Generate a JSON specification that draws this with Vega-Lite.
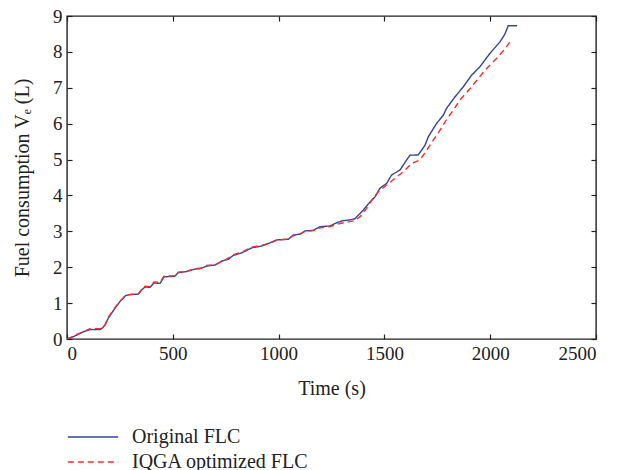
{
  "$schema": "https://vega.github.io/schema/vega-lite/v6.json",
  "width": 529,
  "height": 323,
  "autosize": "none",
  "padding": {"left": 67, "top": 16, "right": 33, "bottom": 131},
  "background": "white",
  "config": {
    "view": {"stroke": "#222", "strokeWidth": 1.4},
    "font": "Liberation Serif",
    "axis": {
      "domain": false,
      "grid": false,
      "tickColor": "#222",
      "tickWidth": 1.2,
      "tickSize": -5,
      "labelFont": "Liberation Serif",
      "labelFontSize": 19,
      "labelColor": "#222",
      "titleFont": "Liberation Serif",
      "titleFontSize": 20,
      "titleFontWeight": "normal",
      "titleColor": "#222"
    },
    "legend": {
      "labelFont": "Liberation Serif",
      "labelFontSize": 20,
      "labelColor": "#222",
      "labelLimit": 400
    }
  },
  "datasets": {
    "fuel": [
      {"t": 0, "v": 0, "s": "Original FLC"},
      {"t": 20, "v": 0.04, "s": "Original FLC"},
      {"t": 46, "v": 0.11, "s": "Original FLC"},
      {"t": 77, "v": 0.2, "s": "Original FLC"},
      {"t": 109, "v": 0.26, "s": "Original FLC"},
      {"t": 156, "v": 0.26, "s": "Original FLC"},
      {"t": 170, "v": 0.32, "s": "Original FLC"},
      {"t": 180, "v": 0.39, "s": "Original FLC"},
      {"t": 195, "v": 0.58, "s": "Original FLC"},
      {"t": 211, "v": 0.72, "s": "Original FLC"},
      {"t": 227, "v": 0.86, "s": "Original FLC"},
      {"t": 250, "v": 1.04, "s": "Original FLC"},
      {"t": 277, "v": 1.21, "s": "Original FLC"},
      {"t": 300, "v": 1.24, "s": "Original FLC"},
      {"t": 337, "v": 1.25, "s": "Original FLC"},
      {"t": 355, "v": 1.38, "s": "Original FLC"},
      {"t": 369, "v": 1.45, "s": "Original FLC"},
      {"t": 392, "v": 1.44, "s": "Original FLC"},
      {"t": 411, "v": 1.56, "s": "Original FLC"},
      {"t": 440, "v": 1.55, "s": "Original FLC"},
      {"t": 458, "v": 1.73, "s": "Original FLC"},
      {"t": 510, "v": 1.75, "s": "Original FLC"},
      {"t": 526, "v": 1.85, "s": "Original FLC"},
      {"t": 566, "v": 1.88, "s": "Original FLC"},
      {"t": 605, "v": 1.95, "s": "Original FLC"},
      {"t": 629, "v": 1.96, "s": "Original FLC"},
      {"t": 660, "v": 2.03, "s": "Original FLC"},
      {"t": 699, "v": 2.06, "s": "Original FLC"},
      {"t": 731, "v": 2.17, "s": "Original FLC"},
      {"t": 762, "v": 2.22, "s": "Original FLC"},
      {"t": 786, "v": 2.33, "s": "Original FLC"},
      {"t": 826, "v": 2.4, "s": "Original FLC"},
      {"t": 873, "v": 2.54, "s": "Original FLC"},
      {"t": 920, "v": 2.59, "s": "Original FLC"},
      {"t": 959, "v": 2.68, "s": "Original FLC"},
      {"t": 991, "v": 2.76, "s": "Original FLC"},
      {"t": 1046, "v": 2.78, "s": "Original FLC"},
      {"t": 1070, "v": 2.9, "s": "Original FLC"},
      {"t": 1101, "v": 2.92, "s": "Original FLC"},
      {"t": 1125, "v": 3.01, "s": "Original FLC"},
      {"t": 1164, "v": 3.03, "s": "Original FLC"},
      {"t": 1196, "v": 3.13, "s": "Original FLC"},
      {"t": 1243, "v": 3.15, "s": "Original FLC"},
      {"t": 1275, "v": 3.24, "s": "Original FLC"},
      {"t": 1300, "v": 3.29, "s": "Original FLC"},
      {"t": 1337, "v": 3.32, "s": "Original FLC"},
      {"t": 1360, "v": 3.35, "s": "Original FLC"},
      {"t": 1377, "v": 3.45, "s": "Original FLC"},
      {"t": 1400, "v": 3.59, "s": "Original FLC"},
      {"t": 1432, "v": 3.82, "s": "Original FLC"},
      {"t": 1456, "v": 3.96, "s": "Original FLC"},
      {"t": 1479, "v": 4.2, "s": "Original FLC"},
      {"t": 1511, "v": 4.34, "s": "Original FLC"},
      {"t": 1534, "v": 4.57, "s": "Original FLC"},
      {"t": 1574, "v": 4.71, "s": "Original FLC"},
      {"t": 1605, "v": 4.99, "s": "Original FLC"},
      {"t": 1621, "v": 5.12, "s": "Original FLC"},
      {"t": 1660, "v": 5.13, "s": "Original FLC"},
      {"t": 1692, "v": 5.4, "s": "Original FLC"},
      {"t": 1708, "v": 5.64, "s": "Original FLC"},
      {"t": 1747, "v": 6.01, "s": "Original FLC"},
      {"t": 1779, "v": 6.24, "s": "Original FLC"},
      {"t": 1794, "v": 6.43, "s": "Original FLC"},
      {"t": 1834, "v": 6.75, "s": "Original FLC"},
      {"t": 1873, "v": 7.03, "s": "Original FLC"},
      {"t": 1912, "v": 7.35, "s": "Original FLC"},
      {"t": 1952, "v": 7.59, "s": "Original FLC"},
      {"t": 1999, "v": 7.96, "s": "Original FLC"},
      {"t": 2046, "v": 8.28, "s": "Original FLC"},
      {"t": 2070, "v": 8.5, "s": "Original FLC"},
      {"t": 2085, "v": 8.73, "s": "Original FLC"},
      {"t": 2127, "v": 8.73, "s": "Original FLC"},

      {"t": 0, "v": 0, "s": "IQGA optimized FLC"},
      {"t": 20, "v": 0.05, "s": "IQGA optimized FLC"},
      {"t": 46, "v": 0.13, "s": "IQGA optimized FLC"},
      {"t": 77, "v": 0.2, "s": "IQGA optimized FLC"},
      {"t": 109, "v": 0.29, "s": "IQGA optimized FLC"},
      {"t": 156, "v": 0.29, "s": "IQGA optimized FLC"},
      {"t": 170, "v": 0.33, "s": "IQGA optimized FLC"},
      {"t": 180, "v": 0.4, "s": "IQGA optimized FLC"},
      {"t": 195, "v": 0.6, "s": "IQGA optimized FLC"},
      {"t": 211, "v": 0.74, "s": "IQGA optimized FLC"},
      {"t": 227, "v": 0.88, "s": "IQGA optimized FLC"},
      {"t": 250, "v": 1.05, "s": "IQGA optimized FLC"},
      {"t": 277, "v": 1.22, "s": "IQGA optimized FLC"},
      {"t": 300, "v": 1.24, "s": "IQGA optimized FLC"},
      {"t": 337, "v": 1.26, "s": "IQGA optimized FLC"},
      {"t": 355, "v": 1.4, "s": "IQGA optimized FLC"},
      {"t": 369, "v": 1.47, "s": "IQGA optimized FLC"},
      {"t": 392, "v": 1.46, "s": "IQGA optimized FLC"},
      {"t": 411, "v": 1.59, "s": "IQGA optimized FLC"},
      {"t": 440, "v": 1.58, "s": "IQGA optimized FLC"},
      {"t": 458, "v": 1.75, "s": "IQGA optimized FLC"},
      {"t": 510, "v": 1.76, "s": "IQGA optimized FLC"},
      {"t": 526, "v": 1.86, "s": "IQGA optimized FLC"},
      {"t": 566, "v": 1.89, "s": "IQGA optimized FLC"},
      {"t": 605, "v": 1.96, "s": "IQGA optimized FLC"},
      {"t": 629, "v": 1.97, "s": "IQGA optimized FLC"},
      {"t": 660, "v": 2.05, "s": "IQGA optimized FLC"},
      {"t": 699, "v": 2.07, "s": "IQGA optimized FLC"},
      {"t": 731, "v": 2.16, "s": "IQGA optimized FLC"},
      {"t": 762, "v": 2.25, "s": "IQGA optimized FLC"},
      {"t": 786, "v": 2.35, "s": "IQGA optimized FLC"},
      {"t": 826, "v": 2.42, "s": "IQGA optimized FLC"},
      {"t": 873, "v": 2.56, "s": "IQGA optimized FLC"},
      {"t": 920, "v": 2.61, "s": "IQGA optimized FLC"},
      {"t": 959, "v": 2.67, "s": "IQGA optimized FLC"},
      {"t": 991, "v": 2.75, "s": "IQGA optimized FLC"},
      {"t": 1046, "v": 2.79, "s": "IQGA optimized FLC"},
      {"t": 1070, "v": 2.88, "s": "IQGA optimized FLC"},
      {"t": 1101, "v": 2.93, "s": "IQGA optimized FLC"},
      {"t": 1125, "v": 3.0, "s": "IQGA optimized FLC"},
      {"t": 1164, "v": 3.02, "s": "IQGA optimized FLC"},
      {"t": 1196, "v": 3.1, "s": "IQGA optimized FLC"},
      {"t": 1243, "v": 3.13, "s": "IQGA optimized FLC"},
      {"t": 1290, "v": 3.22, "s": "IQGA optimized FLC"},
      {"t": 1337, "v": 3.27, "s": "IQGA optimized FLC"},
      {"t": 1360, "v": 3.3, "s": "IQGA optimized FLC"},
      {"t": 1385, "v": 3.41, "s": "IQGA optimized FLC"},
      {"t": 1416, "v": 3.64, "s": "IQGA optimized FLC"},
      {"t": 1440, "v": 3.87, "s": "IQGA optimized FLC"},
      {"t": 1471, "v": 4.1, "s": "IQGA optimized FLC"},
      {"t": 1511, "v": 4.29, "s": "IQGA optimized FLC"},
      {"t": 1550, "v": 4.48, "s": "IQGA optimized FLC"},
      {"t": 1589, "v": 4.66, "s": "IQGA optimized FLC"},
      {"t": 1629, "v": 4.89, "s": "IQGA optimized FLC"},
      {"t": 1668, "v": 4.99, "s": "IQGA optimized FLC"},
      {"t": 1700, "v": 5.26, "s": "IQGA optimized FLC"},
      {"t": 1731, "v": 5.54, "s": "IQGA optimized FLC"},
      {"t": 1763, "v": 5.82, "s": "IQGA optimized FLC"},
      {"t": 1794, "v": 6.12, "s": "IQGA optimized FLC"},
      {"t": 1826, "v": 6.38, "s": "IQGA optimized FLC"},
      {"t": 1857, "v": 6.66, "s": "IQGA optimized FLC"},
      {"t": 1905, "v": 6.98, "s": "IQGA optimized FLC"},
      {"t": 1944, "v": 7.26, "s": "IQGA optimized FLC"},
      {"t": 1983, "v": 7.54, "s": "IQGA optimized FLC"},
      {"t": 2031, "v": 7.82, "s": "IQGA optimized FLC"},
      {"t": 2065, "v": 8.05, "s": "IQGA optimized FLC"},
      {"t": 2090, "v": 8.25, "s": "IQGA optimized FLC"},
      {"t": 2106, "v": 8.3, "s": "IQGA optimized FLC"}
    ]
  },
  "data": {"name": "fuel"},
  "layer": [
    {
      "mark": {"type": "line", "strokeWidth": 1.4, "clip": true},
      "encoding": {
        "x": {
          "field": "t", "type": "quantitative",
          "scale": {"domain": [0, 2500], "nice": false},
          "axis": {"orient": "bottom", "values": [0, 500, 1000, 1500, 2000, 2500], "format": "d", "title": "Time (s)", "labelPadding": 10, "titlePadding": 15}
        },
        "y": {
          "field": "v", "type": "quantitative",
          "scale": {"domain": [0, 9], "nice": false},
          "axis": {"orient": "left", "values": [0, 1, 2, 3, 4, 5, 6, 7, 8, 9], "format": "d", "title": "Fuel consumption Vₑ (L)", "labelPadding": 10, "titlePadding": 20}
        },
        "color": {
          "field": "s", "type": "nominal",
          "scale": {"domain": ["Original FLC", "IQGA optimized FLC"], "range": ["#2f45a0", "#ff2a2a"]},
          "legend": {
            "title": null,
            "orient": "none",
            "legendX": 11,
            "legendY": 406,
            "symbolType": "M-1.8,0H1.8",
            "symbolSize": 784,
            "symbolStrokeWidth": 1.3,
            "symbolFillColor": "transparent",
            "labelOffset": 24,
            "labelLimit": 400,
            "rowPadding": 0
          }
        },
        "strokeDash": {
          "field": "s", "type": "nominal",
          "scale": {"domain": ["Original FLC", "IQGA optimized FLC"], "range": [[1, 0], [6, 4]]},
          "legend": null
        }
      }
    },
    {
      "mark": {"type": "point", "opacity": 0},
      "encoding": {
        "x": {
          "field": "t", "type": "quantitative",
          "axis": {"orient": "top", "values": [0, 500, 1000, 1500, 2000, 2500], "labels": false, "title": null}
        },
        "y": {
          "field": "v", "type": "quantitative",
          "axis": {"orient": "right", "values": [0, 1, 2, 3, 4, 5, 6, 7, 8, 9], "labels": false, "title": null}
        }
      }
    }
  ],
  "resolve": {"axis": {"x": "independent", "y": "independent"}}
}
